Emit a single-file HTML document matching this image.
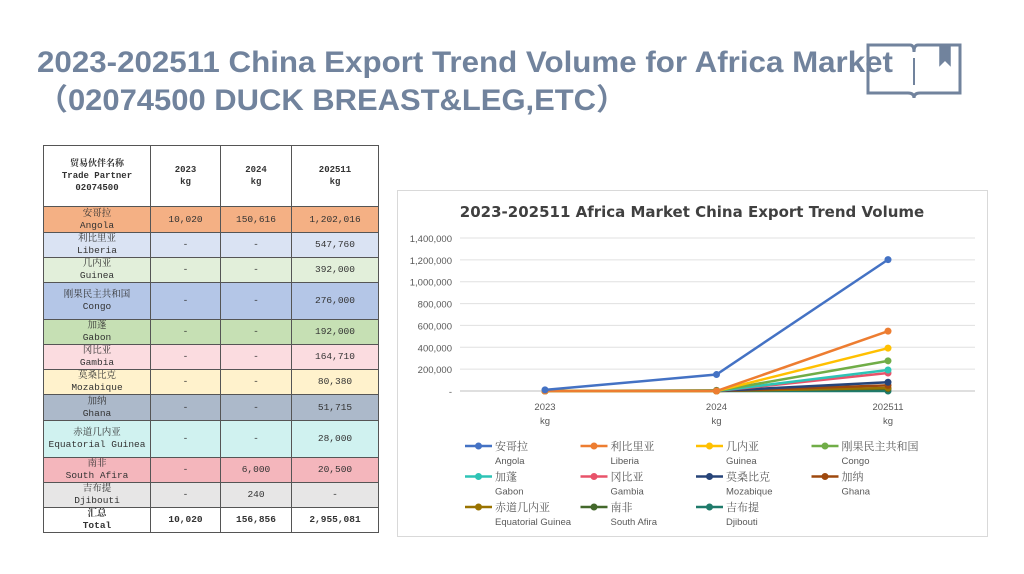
<!DOCTYPE html>
<html><head><meta charset="utf-8">
<style>
body{margin:0;width:1024px;height:574px;background:#fff;position:relative;overflow:hidden;font-family:"Liberation Sans","Noto Sans CJK SC",sans-serif}
table{position:absolute;left:43px;top:145px;width:335px;table-layout:fixed;border-collapse:collapse;font-family:"Liberation Mono","Noto Serif CJK SC",monospace;font-size:9.5px;color:#333}
td{border:1px solid #555;text-align:center;padding:0;line-height:12px;white-space:nowrap;overflow:hidden}
th{border:1px solid #555;font-weight:bold;font-size:9px;line-height:12px;background:#fff}
.b td{font-weight:bold}
</style></head><body>
<svg style="position:absolute;left:0;top:0" width="1024" height="130">
<text x="37" y="72" textLength="856" lengthAdjust="spacingAndGlyphs" font-family="Liberation Sans" font-weight="bold" font-size="30" fill="#71839d">2023-202511  China Export Trend Volume for Africa Market</text>
<text x="37" y="110" textLength="590" lengthAdjust="spacingAndGlyphs" font-family="Liberation Sans,Noto Sans CJK SC,sans-serif" font-weight="bold" font-size="30" fill="#71839d">（02074500 DUCK BREAST&amp;LEG,ETC）</text>
<g fill="none" stroke="#71839d" stroke-width="3">
<path d="M868 45 H910 Q914 45 914 52 Q914 45 918 45 H960 V93 H920 Q914 93 914 98 Q914 93 908 93 H868 Z"/>
<line x1="914" y1="58" x2="914" y2="85" stroke-width="2"/>
<path d="M940 45 V65 L945 60 L950 65 V45" fill="#71839d" stroke-width="1.5"/>
</g>
</svg>

<table>
<colgroup><col style="width:107px"><col style="width:70px"><col style="width:71px"><col style="width:87px"></colgroup>
<tr style="height:61px"><th>贸易伙伴名称<br>Trade Partner<br>02074500</th><th>2023<br>kg</th><th>2024<br>kg</th><th>202511<br>kg</th></tr>
<tr style="height:26px;background:#f4b084"><td>安哥拉<br>Angola</td><td>10,020</td><td>150,616</td><td>1,202,016</td></tr>
<tr style="height:25px;background:#dae3f3"><td>利比里亚<br>Liberia</td><td>-</td><td>-</td><td>547,760</td></tr>
<tr style="height:25px;background:#e2efda"><td>几内亚<br>Guinea</td><td>-</td><td>-</td><td>392,000</td></tr>
<tr style="height:37px;background:#b4c6e7"><td>刚果民主共和国<br>Congo</td><td>-</td><td>-</td><td>276,000</td></tr>
<tr style="height:25px;background:#c6e0b4"><td>加蓬<br>Gabon</td><td>-</td><td>-</td><td>192,000</td></tr>
<tr style="height:25px;background:#fbdce0"><td>冈比亚<br>Gambia</td><td>-</td><td>-</td><td>164,710</td></tr>
<tr style="height:24px;background:#fff2cc"><td>莫桑比克<br>Mozabique</td><td>-</td><td>-</td><td>80,380</td></tr>
<tr style="height:26px;background:#acb9ca"><td>加纳<br>Ghana</td><td>-</td><td>-</td><td>51,715</td></tr>
<tr style="height:37px;background:#d0f2f0"><td>赤道几内亚<br>Equatorial Guinea</td><td>-</td><td>-</td><td>28,000</td></tr>
<tr style="height:25px;background:#f4b6bc"><td>南非<br>South Afira</td><td>-</td><td>6,000</td><td>20,500</td></tr>
<tr style="height:25px;background:#e7e6e6"><td>吉布提<br>Djibouti</td><td>-</td><td>240</td><td>-</td></tr>
<tr class="b" style="height:24px;background:#fff"><td>汇总<br>Total</td><td>10,020</td><td>156,856</td><td>2,955,081</td></tr>
</table>

<div style="position:absolute;left:397px;top:190px;width:591px;height:347px;border:1px solid #d9d9d9;box-sizing:border-box"></div>
<svg id="chart" style="position:absolute;left:0;top:0" width="1024" height="574"></svg>
<script>
const categories=['2023','2024','202511'];
const namesCn=['安哥拉','利比里亚','几内亚','刚果民主共和国','加蓬','冈比亚','莫桑比克','加纳','赤道几内亚','南非','吉布提'];
const namesEn=['Angola','Liberia','Guinea','Congo','Gabon','Gambia','Mozabique','Ghana','Equatorial Guinea','South Afira','Djibouti'];
const colors=['#4472c4','#ed7d31','#ffc000','#70ad47','#2ec4b6','#e8536a','#264478','#9e480e','#997300','#43682b','#1f7a6a'];
const angola=[10020,150616,1202016];
const liberia=[0,0,547760];
const guinea=[0,0,392000];
const congo=[0,0,276000];
const gabon=[0,0,192000];
const gambia=[0,0,164710];
const mozambique=[0,0,80380];
const ghana=[0,0,51715];
const eqGuinea=[0,0,28000];
const southAfrica=[0,6000,20500];
const djibouti=[0,240,0];
const series=[angola,liberia,guinea,congo,gabon,gambia,mozambique,ghana,eqGuinea,southAfrica,djibouti];
const yTicks=[0,200000,400000,600000,800000,1000000,1200000,1400000];
const yTickLabels=['-','200,000','400,000','600,000','800,000','1,000,000','1,200,000','1,400,000'];
const NS='http://www.w3.org/2000/svg';
const svg=document.getElementById('chart');
const y0=391,yPer=(391-238)/1400000;
const yS=v=>y0-v*yPer;
const xS=i=>545+i*171.5;
function mk(t,a,p){const e=document.createElementNS(NS,t);for(const k in a)e.setAttribute(k,a[k]);(p||svg).appendChild(e);return e;}
const title=mk('text',{x:692,y:217,'text-anchor':'middle','font-size':15,'font-weight':'bold',fill:'#404040','font-family':'DejaVu Sans, sans-serif'});
title.textContent='2023-202511 Africa Market China Export Trend Volume';


yTicks.forEach((v,i)=>{
 const g=mk('line',{x1:460,x2:975,y1:yS(v),y2:yS(v),stroke:i==0?'#bfbfbf':'#e0e0e0','stroke-width':1});
 
 
 const t=mk('text',{x:452,y:yS(v)+4,'text-anchor':'end','font-size':9.5,fill:'#595959'});
 t.textContent=yTickLabels[i];
 
 
});
categories.forEach((c,i)=>{
 const t=mk('text',{x:xS(i),y:410,'text-anchor':'middle','font-size':9.5,fill:'#595959'});
 t.textContent=c;
 
 
 const k=mk('text',{x:xS(i),y:424,'text-anchor':'middle','font-size':9.5,fill:'#595959'});
 k.textContent='kg';
 
 
});
for(let s=series.length-1;s>=0;s--){
 const d=series[s];
 const p=mk('polyline',{points:d.map((v,i)=>xS(i)+','+yS(v)).join(' '),fill:'none',stroke:colors[s],'stroke-width':2.5});
 
 
 d.forEach((v,i)=>{
  const c=mk('circle',{cx:xS(i),cy:yS(v),r:3.5,fill:colors[s]});
  
  
 });
}
namesEn.forEach((n,i)=>{
 const col=i%4,row=Math.floor(i/4);
 const x=465+col*115.5,y=446+row*30.5;
 const g=mk('g',{});
 
 
 mk('line',{x1:x,x2:x+27,y1:y,y2:y,stroke:colors[i],'stroke-width':2.5},g);
 mk('circle',{cx:x+13.5,cy:y,r:3.5,fill:colors[i]},g);
 const t1=mk('text',{x:x+30,y:y+4,'font-size':11,fill:'#595959','font-family':'Noto Serif CJK SC, serif'},g);
 t1.textContent=namesCn[i];
 const t2=mk('text',{x:x+30,y:y+18,'font-size':9.5,fill:'#595959'},g);
 t2.textContent=n;
});
</script>
</body></html>
